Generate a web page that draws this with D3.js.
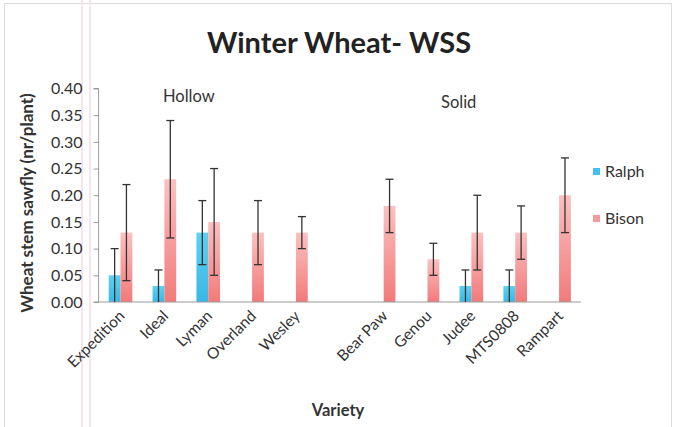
<!DOCTYPE html>
<html><head><meta charset="utf-8">
<script src="https://cdn.jsdelivr.net/npm/d3@7"></script>
<style>body{margin:0;background:#fff;}svg{display:block;font-family:Lato,"Open Sans",sans-serif;}</style>
</head><body><svg id="c" width="674" height="427"></svg>
<script>
const categories = ["Expedition","Ideal","Lyman","Overland","Wesley","","Bear Paw","Genou","Judee","MTS0808","Rampart"];
const seriesNames = ["Ralph","Bison"];
const ralph     = [0.05, 0.03, 0.13, null, null, null, null, null, 0.03, 0.03, null];
const ralphLow  = [0.00, 0.00, 0.07, null, null, null, null, null, 0.00, 0.00, null];
const ralphHigh = [0.10, 0.06, 0.19, null, null, null, null, null, 0.06, 0.06, null];
const bison     = [0.13, 0.23, 0.15, 0.13, 0.13, null, 0.18, 0.08, 0.13, 0.13, 0.20];
const bisonLow  = [0.04, 0.12, 0.05, 0.07, 0.10, null, 0.13, 0.05, 0.06, 0.08, 0.13];
const bisonHigh = [0.22, 0.34, 0.25, 0.19, 0.16, null, 0.23, 0.11, 0.20, 0.18, 0.27];
const yTicks = [0,0.05,0.10,0.15,0.20,0.25,0.30,0.35,0.40];

const svg = d3.select("#c");
const defs = svg.append("defs");
function grad(id, top, bot){
  const g = defs.append("linearGradient").attr("id",id).attr("x1",0).attr("y1",0).attr("x2",0).attr("y2",1);
  g.append("stop").attr("offset","0%").attr("stop-color",top);
  g.append("stop").attr("offset","100%").attr("stop-color",bot);
}
grad("gR","#5fd0f0","#38b8e6");
grad("gB","#fbc0c0","#f27a7a");
const colors = ["url(#gR)","url(#gB)"];
const legendColors = ["#45c0ea","#f59a9a"];

// frame and faint page marks
svg.append("rect").attr("x",4.5).attr("y",3.5).attr("width",667).attr("height",430).attr("fill","none").attr("stroke","#dcdcdc");
svg.append("line").attr("x1",82).attr("x2",82).attr("y1",0).attr("y2",427).attr("stroke","#f7dbe6").attr("stroke-width",1.5);
svg.append("line").attr("x1",90).attr("x2",90).attr("y1",0).attr("y2",427).attr("stroke","#f7dbe6").attr("stroke-width",1.5);

const x0 = d3.scaleBand().domain(d3.range(categories.length)).range([98.6,581]).paddingInner(0).paddingOuter(0);
const x1 = d3.scaleBand().domain(seriesNames).range([0,x0.bandwidth()]).paddingInner(0).paddingOuter(0.857);
const y = d3.scaleLinear().domain([0,0.4]).range([302,88.5]);

// y axis
const yAxis = svg.append("g").attr("transform","translate(98.6,0)")
  .call(d3.axisLeft(y).tickValues(yTicks).tickFormat(d3.format(".2f")).tickSize(5).tickPadding(11));
yAxis.select(".domain").attr("stroke","#9a9a9a").attr("d","M-5,88.5H0V302H-5");
yAxis.selectAll(".tick line").attr("stroke","#9a9a9a");
yAxis.selectAll("text").attr("font-size",16).attr("fill","#333").attr("font-family","Lato,sans-serif");

// bars
const data = [];
categories.forEach((c,i)=>{
  data.push({i, s:"Ralph", v:ralph[i], lo:ralphLow[i], hi:ralphHigh[i]});
  data.push({i, s:"Bison", v:bison[i], lo:bisonLow[i], hi:bisonHigh[i]});
});
const valid = data.filter(d=>d.v!==null);
svg.append("g").selectAll("rect").data(valid).join("rect")
  .attr("x",d=>x0(d.i)+x1(d.s))
  .attr("width",x1.bandwidth())
  .attr("y",d=>y(d.v))
  .attr("height",d=>y(0)-y(d.v))
  .attr("fill",d=>colors[seriesNames.indexOf(d.s)]);

// x axis line
svg.append("line").attr("x1",98.6).attr("x2",581).attr("y1",y(0)).attr("y2",y(0)).attr("stroke","#9a9a9a");

// error bars
const eb = svg.append("g").attr("stroke","#333").attr("stroke-width",1.3);
valid.forEach(d=>{
  const cx = x0(d.i)+x1(d.s)+x1.bandwidth()/2;
  eb.append("line").attr("x1",cx).attr("x2",cx).attr("y1",y(d.lo)).attr("y2",y(d.hi));
  eb.append("line").attr("x1",cx-4).attr("x2",cx+4).attr("y1",y(d.hi)).attr("y2",y(d.hi));
  if(d.lo>0) eb.append("line").attr("x1",cx-4).attr("x2",cx+4).attr("y1",y(d.lo)).attr("y2",y(d.lo));
});

// x labels
svg.append("g").selectAll("text").data(categories.map((c,i)=>({c,i})).filter(d=>d.c)).join("text")
  .attr("transform",d=>`translate(${x0(d.i)+x0.bandwidth()/2+5},${y(0)+15}) rotate(-45)`)
  .attr("text-anchor","end").attr("font-size",15.5).attr("fill","#333").text(d=>d.c);

// titles
svg.append("text").attr("x",339).attr("y",53).attr("text-anchor","middle").attr("font-size",29).attr("font-weight","bold").attr("fill","#222").text("Winter Wheat- WSS");
svg.append("text").attr("x",163).attr("y",102).attr("font-size",16.5).attr("fill","#333").text("Hollow");
svg.append("text").attr("x",441).attr("y",108).attr("font-size",16.5).attr("fill","#333").text("Solid");
svg.append("text").attr("transform","translate(33,203) rotate(-90)").attr("text-anchor","middle").attr("font-size",17).attr("font-weight","bold").attr("fill","#333").text("Wheat stem sawfly (nr/plant)");
svg.append("text").attr("x",338).attr("y",416).attr("text-anchor","middle").attr("font-size",16.5).attr("font-weight","bold").attr("fill","#333").text("Variety");

// legend
const lg = svg.append("g");
seriesNames.forEach((s,k)=>{
  const yy = 168 + k*47;
  lg.append("rect").attr("x",593).attr("y",yy).attr("width",7).attr("height",7).attr("fill",legendColors[k]);
  lg.append("text").attr("x",605).attr("y",yy+9).attr("font-size",16).attr("fill","#333").text(s);
});
</script></body></html>
